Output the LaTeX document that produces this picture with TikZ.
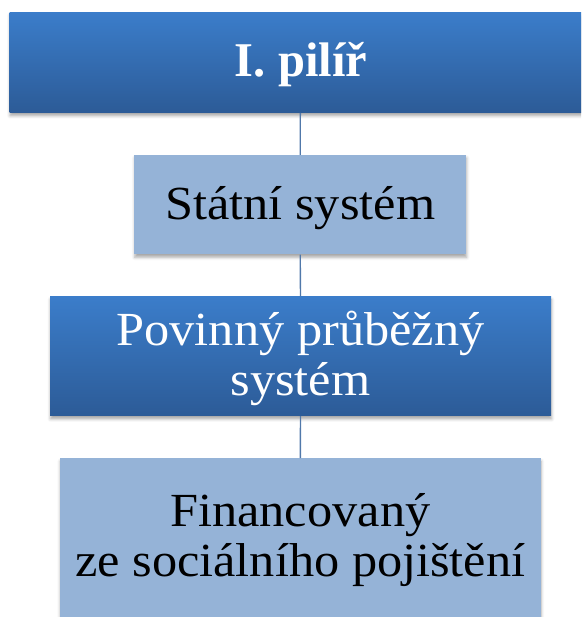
\documentclass[tikz,border=0pt]{standalone}
\usepackage{fontspec}
\setmainfont{Liberation Serif}
\newfontfamily\boxfont[FakeStretch=1.06]{Liberation Serif}
\usetikzlibrary{shadows.blur}
\definecolor{darktop}{RGB}{59,125,202}
\definecolor{darkbot}{RGB}{44,91,151}
\definecolor{lightbox}{RGB}{149,179,215}
\definecolor{linecol}{RGB}{80,120,170}
\tikzset{
  darkbox/.style={rectangle, inner sep=0pt, top color=darktop, bottom color=darkbot,
    blur shadow={shadow xshift=0.5pt, shadow yshift=-3pt, shadow blur radius=3pt, shadow opacity=35}},
  lightbox/.style={rectangle, inner sep=0pt, fill=lightbox,
    blur shadow={shadow xshift=0.5pt, shadow yshift=-3pt, shadow blur radius=3pt, shadow opacity=35}},
  conn/.style={draw=linecol, line width=1.4pt},
  txt/.style={anchor=base, inner sep=0pt, font=\boxfont\fontsize{47.5pt}{50pt}\selectfont},
  wtxt/.style={txt, text=white},
  btxt/.style={txt, text=black}
}
\begin{document}
\begin{tikzpicture}[x=1pt,y=-1pt]
\useasboundingbox (0,0) rectangle (581,617);
\clip (0,0) rectangle (581,617);
\node[darkbox, minimum width=581.5pt, minimum height=100.4pt] (p1) at (300.3,62.5) {};
\node[lightbox, minimum width=331.7pt, minimum height=99.3pt] (p2) at (300.2,204.7) {};
\node[darkbox, minimum width=501pt, minimum height=119.3pt] (p3) at (300.5,356.3) {};
\node[lightbox, minimum width=480.7pt, minimum height=159pt] (p4) at (300.3,537.8) {};
\node[anchor=base, inner sep=0pt, text=white, font=\fontsize{48.5pt}{50pt}\selectfont\bfseries] (t1) at (301,77) {I. pilíř};
\node[btxt] (t2) at (300.2,220) {Státní systém};
\node[wtxt] (t3a) at (300.5,345) {Povinný průběžný};
\node[wtxt] (t3b) at (300.5,395.7) {systém};
\node[btxt] (t4a) at (300.3,526.7) {Financovaný};
\node[btxt] (t4b) at (300.3,576.7) {ze sociálního pojištění};
\draw[conn] (p1.south) -- (p2.north);
\draw[conn] (p2.south) -- (p3.north);
\draw[conn] (p3.south) -- (p4.north);
\end{tikzpicture}
\end{document}
